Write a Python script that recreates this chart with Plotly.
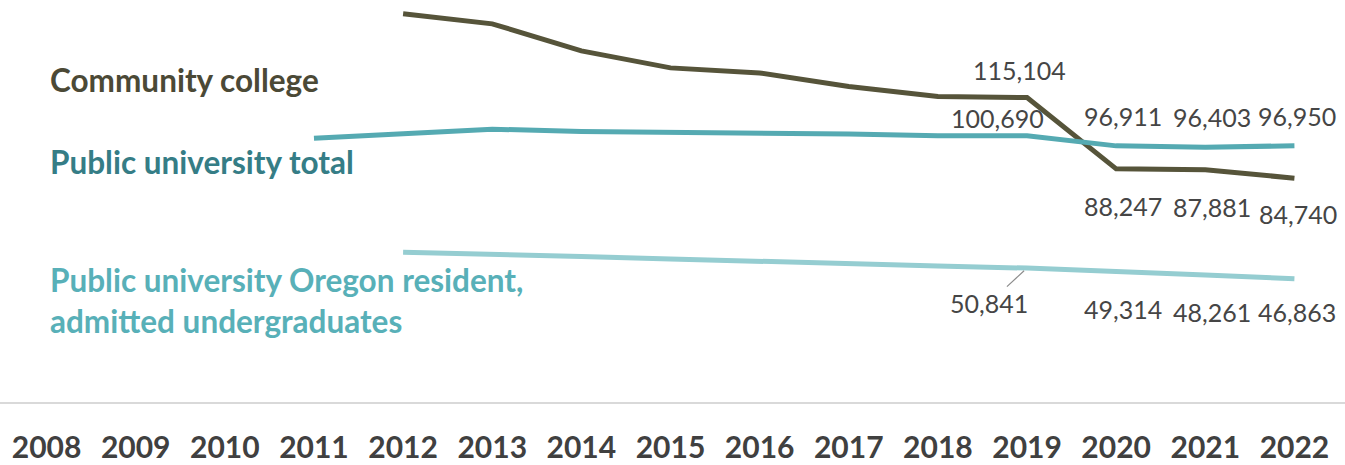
import plotly.graph_objects as go

years = [str(y) for y in range(2008, 2023)]

community_college = [None, None, None, None, 146700, 142900, 132700, 126300, 124400,
                     119300, 115500, 115104, 88247, 87881, 84740]
public_univ_total = [None, None, None, 99800, 101400, 103200, 102300, 102000, 101800,
                     101400, 100700, 100690, 96911, 96403, 96950]
oregon_resident = [None, None, None, None, 56800, 56200, 55200, 54300, 53300,
                   52300, 51600, 50841, 49314, 48261, 46863]

series_names = ["Community college", "Public university total",
                "Public university Oregon resident,<br>admitted undergraduates"]

C_CC_LINE = "#56543a"
C_CC_TEXT = "#4b4936"
C_PT_LINE = "#55aab2"
C_PT_TEXT = "#357d86"
C_OR_LINE = "#95cdd1"
C_OR_TEXT = "#58b0b8"
LBL = "#454545"

FONT = "Lato, Carlito, Calibri, sans-serif"

fig = go.Figure()
for vals, col in [(community_college, C_CC_LINE), (public_univ_total, C_PT_LINE),
                  (oregon_resident, C_OR_LINE)]:
    fig.add_trace(go.Scatter(x=years, y=vals, mode="lines",
                             line=dict(color=col, width=5),
                             hoverinfo="skip", showlegend=False))

ann = []

def fmt(v):
    return f"{v:,}"

# annotation x on a category axis = category index
for i, v in enumerate(community_college):
    if v is None or i < 11:
        continue
    if i == 11:
        ann.append(dict(x=i, y=v, text=fmt(v), xshift=-8, yshift=28))
    else:
        ann.append(dict(x=i, y=v, text=fmt(v), xshift=7 if i < 14 else 4,
                        yshift=-37 if i < 14 else -36))

for i, v in enumerate(public_univ_total):
    if v is None or i < 11:
        continue
    if i == 11:
        ann.append(dict(x=i, y=v, text=fmt(v), xshift=-30, yshift=18))
    else:
        ann.append(dict(x=i, y=v, text=fmt(v), xshift=7 if i < 14 else 3, yshift=30))

for i, v in enumerate(oregon_resident):
    if v is None or i < 11:
        continue
    if i == 11:
        ann.append(dict(x=i, y=v, text=fmt(v), showarrow=True, arrowhead=0,
                        arrowwidth=1.2, arrowcolor="#8c8c8c", ax=-38, ay=35,
                        standoff=4, xanchor="center", yanchor="middle"))
    else:
        ann.append(dict(x=i, y=v, text=fmt(v), xshift=7 if i < 14 else 3,
                        yshift=-37 if i < 14 else -33))

for a in ann:
    a.setdefault("showarrow", False)
    a.update(xref="x", yref="y", font=dict(family=FONT, size=25, color=LBL))
    fig.add_annotation(**a)

name_specs = [
    (series_names[0], C_CC_TEXT, 80),
    (series_names[1], C_PT_TEXT, 162),
    (series_names[2], C_OR_TEXT, 300),
]
for txt, col, ypx in name_specs:
    fig.add_annotation(xref="paper", yref="paper", x=(48 - 2) / 1337,
                       y=(403 - ypx) / 398, text=txt, showarrow=False,
                       xanchor="left", yanchor="middle", align="left",
                       font=dict(family=FONT, size=31.5, color=col, weight="bold"))

fig.add_shape(type="line", xref="paper", yref="paper", x0=-0.01, x1=1.01, y0=0, y1=0,
              line=dict(color="#d9d9d9", width=2))

fig.update_layout(
    width=1345, height=465,
    margin=dict(l=2, r=6, t=5, b=62),
    paper_bgcolor="white", plot_bgcolor="white",
    xaxis=dict(type="category", categoryorder="array", categoryarray=years,
               range=[-0.5, 14.5], showgrid=False, zeroline=False, showline=False,
               ticks="", ticklabelstandoff=24,
               tickfont=dict(family=FONT, size=30, color="#404040", weight="bold")),
    yaxis=dict(range=[0, 150000], showgrid=False, zeroline=False, showline=False,
               showticklabels=False, ticks=""),
)

fig.write_html("out.html", config={"displayModeBar": False},
               post_script="document.body.style.margin='0';document.body.style.overflow='hidden';")
